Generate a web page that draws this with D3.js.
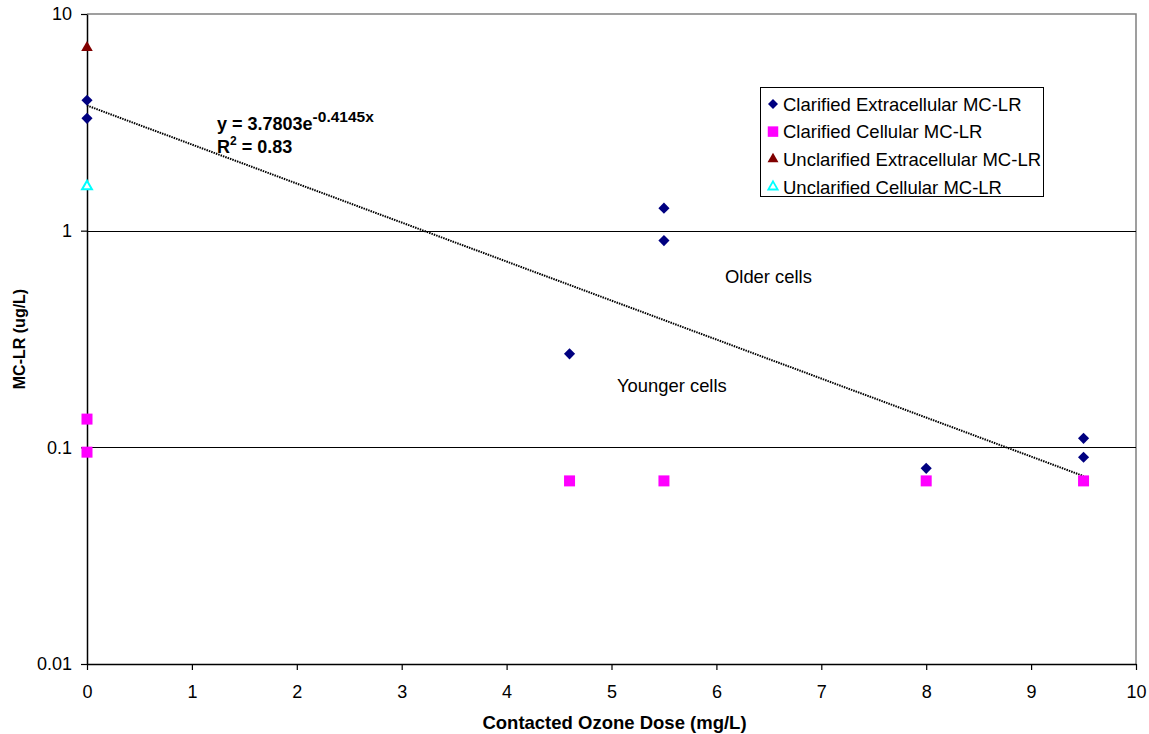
<!DOCTYPE html>
<html>
<head>
<meta charset="utf-8">
<script src="https://cdn.jsdelivr.net/npm/d3@7"></script>
<style>
  html, body { margin: 0; padding: 0; background: #fff; }
  text { font-family: "Liberation Sans", Arial, sans-serif; }
</style>
</head>
<body>
<svg id="chart" width="1149" height="734"></svg>
<script>
// Series: contacted ozone dose (mg/L) vs MC-LR (ug/L)
const clarExtX = [0, 0, 4.6, 5.5, 5.5, 8, 9.5, 9.5];
const clarExtY = [4.0, 3.3, 0.27, 1.27, 0.9, 0.08, 0.11, 0.09];
const clarCellX = [0, 0, 4.6, 5.5, 8, 9.5];
const clarCellY = [0.135, 0.095, 0.07, 0.07, 0.07, 0.07];
const unclarExtX = [0];
const unclarExtY = [7.0];
const unclarCellX = [0];
const unclarCellY = [1.6];

// Exponential trend fitted to clarified extracellular values
const trendA = 3.7803;
const trendB = -0.4145;
const trendRange = [0, 9.5];

const xTicks = [0, 1, 2, 3, 4, 5, 6, 7, 8, 9, 10];
const yTicks = [0.01, 0.1, 1, 10];
const gridValues = [0.1, 1];

const seriesNames = [
  "Clarified Extracellular MC-LR",
  "Clarified Cellular MC-LR",
  "Unclarified Extracellular MC-LR",
  "Unclarified Cellular MC-LR"
];

const svg = d3.select("#chart");
const plotL = 87, plotR = 1136, plotT = 14, plotB = 664;

const x = d3.scaleLinear().domain([0, 10]).range([plotL, plotR]);
const y = d3.scaleLog().domain([0.01, 10]).range([plotB, plotT]);

// Plot frame (top and right edges in grey)
svg.append("path")
  .attr("d", `M${plotL},${plotT}H${plotR}V${plotB}`)
  .attr("fill", "none").attr("stroke", "#808080").attr("stroke-width", 1.5);

// Horizontal gridlines
svg.append("g").selectAll("line").data(gridValues).join("line")
  .attr("x1", plotL).attr("x2", plotR)
  .attr("y1", d => Math.round(y(d)) + 0.5).attr("y2", d => Math.round(y(d)) + 0.5)
  .attr("stroke", "#000").attr("stroke-width", 1);

// Axes
const xAxis = d3.axisBottom(x).tickValues(xTicks).tickFormat(d3.format("d"))
  .tickSize(6).tickSizeOuter(0).tickPadding(15);
const gx = svg.append("g").attr("transform", `translate(0,${plotB})`).call(xAxis);
gx.select(".domain").attr("stroke", "#000").attr("stroke-width", 1.5);
gx.selectAll(".tick line").attr("stroke", "#000").attr("stroke-width", 1.2);
gx.selectAll(".tick text").attr("font-size", 18).attr("fill", "#000")
  .attr("font-family", "Liberation Sans, Arial, sans-serif");

const yAxis = d3.axisLeft(y).tickValues(yTicks).tickFormat(d => String(d))
  .tickSize(6).tickSizeOuter(0).tickPadding(9);
const gy = svg.append("g").attr("transform", `translate(${plotL},0)`).call(yAxis);
gy.select(".domain").attr("stroke", "#000").attr("stroke-width", 1.5);
gy.selectAll(".tick line").attr("stroke", "#000").attr("stroke-width", 1.2);
gy.selectAll(".tick text").attr("font-size", 18).attr("fill", "#000")
  .attr("font-family", "Liberation Sans, Arial, sans-serif");

// Axis titles
svg.append("text").attr("x", 614.5).attr("y", 729)
  .attr("text-anchor", "middle").attr("font-size", 18.5).attr("font-weight", "bold")
  .text("Contacted Ozone Dose (mg/L)");
svg.append("text").attr("transform", "translate(24.5,339) rotate(-90)")
  .attr("text-anchor", "middle").attr("font-size", 16).attr("font-weight", "bold")
  .text("MC-LR (ug/L)");

// Trend line (dotted)
const trendPts = d3.range(0, 96).map(i => trendRange[0] + (trendRange[1] - trendRange[0]) * i / 95);
svg.append("path")
  .datum(trendPts)
  .attr("d", d3.line().x(d => x(d)).y(d => y(trendA * Math.exp(trendB * d))))
  .attr("fill", "none").attr("stroke", "#000").attr("stroke-width", 2)
  .attr("stroke-dasharray", "1.5,1");

// Marker shapes
const diamond = d3.symbol().type(d3.symbolSquare).size(62)();
const square = d3.symbol().type(d3.symbolSquare).size(121)();
const triFilled = d3.symbol().type(d3.symbolTriangle).size(58)();
const triOpen = d3.symbol().type(d3.symbolTriangle).size(42)();

function drawPoints(xs, ys, path, attrs, rot) {
  const g = svg.append("g");
  g.selectAll("path").data(xs.map((v, i) => [v, ys[i]])).join("path")
    .attr("d", path)
    .attr("transform", d => `translate(${x(d[0])},${y(d[1])})${rot ? " rotate(45)" : ""}`)
    .each(function () { const s = d3.select(this); for (const k in attrs) s.attr(k, attrs[k]); });
}

drawPoints(clarCellX, clarCellY, square, { fill: "#ff00ff" });
drawPoints(unclarExtX, unclarExtY, triFilled, { fill: "#800000" });
drawPoints(unclarCellX, unclarCellY, triOpen, { fill: "#fff", stroke: "#00ffff", "stroke-width": 2 });
drawPoints(clarExtX, clarExtY, diamond, { fill: "#000080" }, true);

// Trend equation
const eq = svg.append("text").attr("x", 217).attr("y", 130)
  .attr("font-size", 18).attr("font-weight", "bold");
eq.append("tspan").text("y = 3.7803e");
eq.append("tspan").attr("dy", -8).attr("font-size", 15.5).text("-0.4145x");
const r2 = svg.append("text").attr("x", 217).attr("y", 153)
  .attr("font-size", 18).attr("font-weight", "bold");
r2.append("tspan").text("R");
r2.append("tspan").attr("dy", -8).attr("font-size", 12).text("2");
r2.append("tspan").attr("dy", 8).text(" = 0.83");

// Annotations
svg.append("text").attr("x", 725).attr("y", 283).attr("font-size", 18.4).text("Older cells");
svg.append("text").attr("x", 617).attr("y", 392).attr("font-size", 18.4).text("Younger cells");

// Legend
const lg = svg.append("g");
lg.append("rect").attr("x", 760.5).attr("y", 87.5).attr("width", 283).attr("height", 109)
  .attr("fill", "#fff").attr("stroke", "#000").attr("stroke-width", 1);
const legendSymbols = [
  { p: d3.symbol().type(d3.symbolSquare).size(50)(), a: { fill: "#000080" }, rot: true },
  { p: d3.symbol().type(d3.symbolSquare).size(110)(), a: { fill: "#ff00ff" } },
  { p: d3.symbol().type(d3.symbolTriangle).size(52)(), a: { fill: "#800000" } },
  { p: d3.symbol().type(d3.symbolTriangle).size(38)(), a: { fill: "#fff", stroke: "#00ffff", "stroke-width": 1.8 } }
];
seriesNames.forEach((name, i) => {
  const base = 110.7 + i * 27.6;
  const s = lg.append("path").attr("d", legendSymbols[i].p)
    .attr("transform", `translate(773,${base - 6.7})${legendSymbols[i].rot ? " rotate(45)" : ""}`);
  for (const k in legendSymbols[i].a) s.attr(k, legendSymbols[i].a[k]);
  lg.append("text").attr("x", 783).attr("y", base).attr("font-size", 18.5).text(name);
});
</script>
</body>
</html>
